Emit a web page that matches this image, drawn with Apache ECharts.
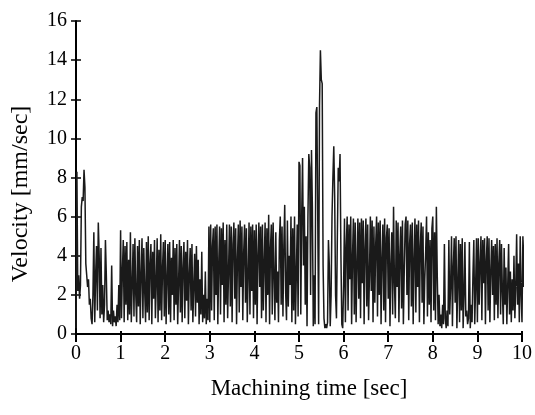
<!DOCTYPE html>
<html>
<head>
<meta charset="utf-8">
<script src="https://cdn.jsdelivr.net/npm/echarts@6/dist/echarts.min.js"></script>
<style>
  html, body { margin: 0; padding: 0; background: #fff; }
  #chart { width: 535px; height: 415px; }
</style>
</head>
<body>
<div id="chart"></div>
<script>
// sample spacing of the recorded signal [sec]
const sampleStep = 0.02
const xTicks = [0, 1, 2, 3, 4, 5, 6, 7, 8, 9, 10]
const yTicks = [0, 2, 4, 6, 8, 10, 12, 14, 16]

// velocity [mm/sec], one value per sample
const vel0 = [0.3, 8.3, 2.2, 3.0, 1.8, 2.5, 6.5, 7.0, 6.8, 8.4,
              7.5, 3.6, 3.0, 2.4, 2.8, 1.5, 1.8, 0.8, 0.5, 2.0,
              5.2, 0.6, 3.0, 4.5, 1.2, 5.7, 4.0, 0.8, 4.4, 1.0,
              2.5, 0.6, 1.5, 4.8, 3.0, 0.7, 1.2, 0.6, 1.0, 0.5,
              3.5, 0.4, 1.2, 0.6, 0.9, 0.4, 1.5, 0.6, 2.5, 0.7]
const vel1 = [5.3, 0.8, 3.2, 4.8, 0.6, 4.5, 1.5, 4.7, 0.7, 3.8,
              1.0, 5.2, 0.6, 2.5, 4.6, 0.9, 4.9, 2.0, 0.6, 4.5,
              1.4, 4.8, 0.5, 3.0, 4.9, 0.8, 4.4, 2.2, 0.6, 4.7,
              1.1, 5.0, 0.7, 3.6, 4.6, 0.5, 4.2, 1.8, 4.8, 0.8,
              2.6, 4.9, 0.6, 4.3, 1.2, 5.1, 0.7, 3.4, 4.7, 0.9]
const vel2 = [4.8, 0.5, 2.8, 4.6, 1.0, 4.7, 0.6, 3.9, 2.0, 4.8,
              0.7, 4.4, 1.5, 4.6, 0.5, 2.6, 4.8, 1.1, 4.5, 0.6,
              3.4, 4.7, 0.8, 4.2, 1.7, 4.8, 0.5, 3.0, 4.4, 1.2,
              4.6, 0.6, 2.4, 4.1, 0.9, 4.5, 1.6, 3.8, 0.5, 2.8,
              1.0, 4.2, 0.6, 2.0, 0.8, 3.2, 0.5, 1.8, 0.7, 5.5]
const vel3 = [0.6, 5.6, 1.2, 4.5, 5.4, 0.7, 5.5, 2.0, 5.6, 0.5,
              3.6, 5.5, 1.0, 5.4, 2.5, 5.7, 0.6, 4.8, 1.5, 5.6,
              0.8, 3.2, 5.6, 1.4, 5.5, 0.6, 4.6, 5.7, 1.8, 5.4,
              0.5, 3.8, 5.6, 1.1, 5.8, 2.4, 5.5, 0.7, 4.2, 5.6,
              1.6, 5.4, 0.6, 3.0, 5.7, 1.0, 5.5, 2.2, 5.6, 0.8]
const vel4 = [5.3, 1.5, 5.6, 0.5, 4.0, 5.7, 2.4, 5.5, 0.8, 5.6,
              1.2, 3.6, 5.7, 0.6, 5.4, 2.0, 6.1, 0.5, 4.4, 5.6,
              1.0, 5.7, 3.0, 0.7, 5.2, 1.6, 3.2, 0.6, 4.8, 6.0,
              1.5, 5.5, 0.9, 4.5, 6.6, 2.2, 0.7, 5.8, 1.4, 4.0,
              2.5, 6.0, 0.6, 5.4, 1.2, 6.0, 0.5, 3.0, 5.6, 0.9]
const vel5 = [8.8, 8.6, 1.0, 6.0, 9.0, 3.5, 6.5, 1.5, 5.0, 0.4,
              6.0, 9.2, 8.5, 2.0, 9.4, 6.5, 0.4, 3.0, 0.5, 11.3,
              11.6, 11.5, 0.5, 11.7, 14.5, 13.0, 12.8, 3.5, 0.8, 0.3,
              0.5, 0.3, 0.6, 4.8, 3.5, 0.4, 2.0, 6.0, 8.0, 9.6,
              7.0, 2.0, 0.8, 5.0, 8.5, 7.8, 9.2, 4.0, 0.5, 0.3]
const vel6 = [2.5, 5.9, 0.6, 4.5, 6.0, 1.2, 5.6, 2.8, 6.0, 0.5,
              4.0, 5.9, 1.0, 5.7, 0.6, 3.5, 5.9, 1.8, 5.7, 0.8,
              5.9, 2.6, 5.8, 0.5, 4.4, 5.9, 1.4, 5.6, 0.7, 3.0,
              6.0, 2.2, 5.8, 0.6, 5.5, 1.6, 4.6, 6.0, 0.9, 5.7,
              2.0, 5.8, 0.5, 3.8, 5.6, 1.2, 5.9, 0.6, 4.9, 5.6]
const vel7 = [1.8, 5.4, 0.4, 3.5, 5.2, 1.0, 6.5, 2.6, 0.8, 5.8,
              2.4, 5.7, 0.6, 4.0, 5.5, 1.3, 5.8, 0.5, 3.2, 5.6,
              6.0, 2.0, 5.8, 0.7, 4.6, 5.6, 1.4, 5.7, 0.5, 3.8,
              5.9, 1.1, 5.6, 2.4, 5.8, 0.6, 4.5, 5.7, 1.6, 5.5,
              0.5, 2.8, 4.2, 6.0, 0.9, 5.2, 1.5, 4.8, 0.6, 5.4]
const vel8 = [6.0, 1.2, 5.2, 0.7, 6.5, 3.0, 0.5, 2.0, 0.4, 1.0,
              0.3, 1.5, 0.5, 4.6, 0.8, 0.3, 1.2, 0.4, 4.8, 1.0,
              2.5, 5.0, 0.4, 3.4, 4.9, 1.6, 5.0, 0.3, 2.6, 4.8,
              0.6, 4.6, 1.2, 4.9, 0.3, 2.0, 4.7, 0.9, 1.2, 0.5,
              0.8, 4.7, 0.3, 1.5, 0.6, 3.0, 4.8, 0.5, 2.4, 4.9]
const vel9 = [0.6, 4.9, 1.5, 3.6, 5.0, 0.7, 4.8, 2.6, 4.9, 0.5,
              3.8, 5.0, 1.2, 4.9, 0.6, 3.2, 4.8, 2.0, 4.5, 0.7,
              4.6, 1.5, 4.9, 0.8, 3.6, 4.8, 1.0, 4.6, 2.2, 0.5,
              4.4, 1.5, 3.4, 0.5, 2.5, 4.6, 1.0, 3.2, 0.6, 2.8,
              1.2, 4.0, 0.8, 2.4, 5.1, 1.5, 3.6, 0.6, 5.0, 2.0]
const vel10 = [0.6, 5.0, 2.4, 4.8, 1.8]

const velocity = [].concat(vel0, vel1, vel2, vel3, vel4, vel5, vel6, vel7, vel8, vel9, vel10)
const seriesData = velocity.map((v, i) => [+(i * sampleStep).toFixed(2), v])

const serif = 'Liberation Serif'
const chart = echarts.init(document.getElementById('chart'))

const xBase = {
  type: 'value',
  min: xTicks[0],
  max: xTicks[xTicks.length - 1],
  interval: 1,
  splitLine: { show: false }
}
const yBase = {
  type: 'value',
  min: yTicks[0],
  max: yTicks[yTicks.length - 1],
  interval: 2,
  splitLine: { show: false }
}

chart.setOption({
  animation: false,
  backgroundColor: '#fff',
  grid: { left: 76, right: 12, top: 21, bottom: 81 },
  xAxis: [
    Object.assign({}, xBase, {
      axisLine: { onZero: false, lineStyle: { color: '#000', width: 2 } },
      axisTick: { length: 8, lineStyle: { color: '#000', width: 2 } },
      axisLabel: { fontFamily: serif, fontSize: 20, color: '#000', margin: 10 }
    }),
    // inner half of the crossing ticks
    Object.assign({}, xBase, {
      position: 'bottom',
      axisLine: { show: false },
      axisTick: { inside: true, length: 3, lineStyle: { color: '#000', width: 2 } },
      axisLabel: { show: false }
    })
  ],
  yAxis: [
    Object.assign({}, yBase, {
      axisLine: { onZero: false, lineStyle: { color: '#000', width: 2 } },
      axisTick: { length: 5, lineStyle: { color: '#000', width: 1.5 } },
      axisLabel: { fontFamily: serif, fontSize: 20, color: '#000', margin: 9 }
    }),
    Object.assign({}, yBase, {
      position: 'left',
      axisLine: { show: false },
      axisTick: { inside: true, length: 5, lineStyle: { color: '#000', width: 1.5 } },
      axisLabel: { show: false }
    })
  ],
  graphic: [
    {
      type: 'text', x: 309, y: 389,
      style: { text: 'Machining time [sec]', font: '23px "Liberation Serif"', fill: '#000', align: 'center', verticalAlign: 'middle' }
    },
    {
      type: 'text', x: 21, y: 194, rotation: Math.PI / 2,
      style: { text: 'Velocity [mm/sec]', font: '24px "Liberation Serif"', fill: '#000', align: 'center', verticalAlign: 'middle' }
    }
  ],
  series: [{
    type: 'line',
    data: seriesData,
    showSymbol: false,
    clip: false,
    lineStyle: { color: '#1a1a1a', width: 1.5 }
  }]
})
</script>
</body>
</html>
